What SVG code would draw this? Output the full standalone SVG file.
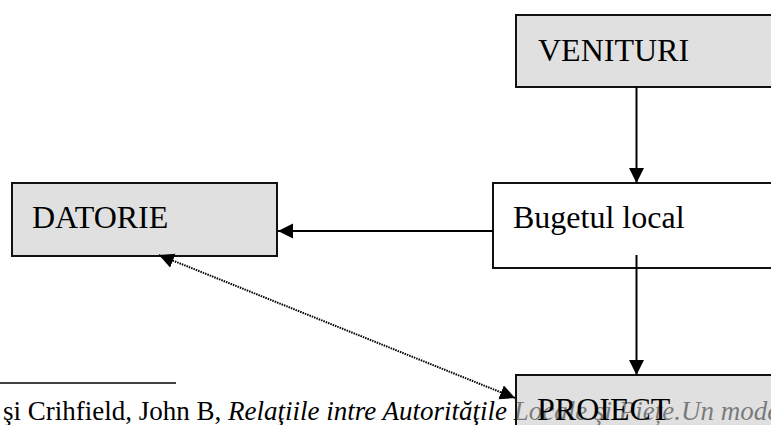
<svg xmlns="http://www.w3.org/2000/svg" width="771" height="425" viewBox="0 0 771 425">
  <style>
    .box { stroke: #111; stroke-width: 2; }
    .grey { fill: #e0e0e0; }
    .label { font-family: "Liberation Serif", "Times New Roman", serif; font-size: 32px; fill: #000; }
    .foot { font-family: "Liberation Serif", "Times New Roman", serif; font-size: 27px; fill: #000; }
    .conn { stroke: #000; stroke-width: 2; fill: none; }
    .dotted { stroke: #000; stroke-width: 2; stroke-dasharray: 1.5 1; fill: none; }
  </style>
  <defs>
    <marker id="arrow" markerUnits="userSpaceOnUse" markerWidth="16" markerHeight="16" refX="15" refY="7.5" orient="auto-start-reverse" viewBox="0 0 16 16">
      <path d="M0,0 L15,7.5 L0,15 z" fill="#000"/>
    </marker>
  </defs>
  <rect width="771" height="425" fill="#fff"/>

  <g id="footnote">
    <line x1="0" y1="383" x2="176" y2="383" stroke="#000" stroke-width="1.5"/>
    <text class="foot" x="3" y="420">şi Crihfield, John B, <tspan font-style="italic">Relaţiile intre Autorităţile Locale şi Piețe.Un model</tspan></text>
  </g>

  <g id="node-venituri">
    <rect class="box grey" x="516" y="15" width="270" height="72"/>
    <text class="label" x="538" y="61">VENITURI</text>
  </g>

  <g id="node-bugetul">
    <rect class="box" fill="#fff" x="493" y="183" width="290" height="85"/>
    <text class="label" x="513" y="228">Bugetul local</text>
  </g>

  <g id="node-datorie">
    <rect class="box grey" x="12" y="183" width="265" height="73"/>
    <text class="label" x="32" y="228">DATORIE</text>
  </g>

  <g id="node-proiect">
    <rect class="box" fill="#cbcbcb" fill-opacity="0.6" x="516" y="375" width="270" height="70"/>
    <text class="label" x="537" y="420">PROIECT</text>
  </g>

  <g id="connectors">
    <line class="conn" x1="636.5" y1="87" x2="636.5" y2="183" marker-end="url(#arrow)"/>
    <line class="conn" x1="493" y1="231" x2="278" y2="231" marker-end="url(#arrow)"/>
    <line class="conn" x1="636.5" y1="255" x2="636.5" y2="375" marker-end="url(#arrow)"/>
    <line class="dotted" x1="515" y1="398" x2="159" y2="255" marker-start="url(#arrow)" marker-end="url(#arrow)"/>
  </g>
</svg>
